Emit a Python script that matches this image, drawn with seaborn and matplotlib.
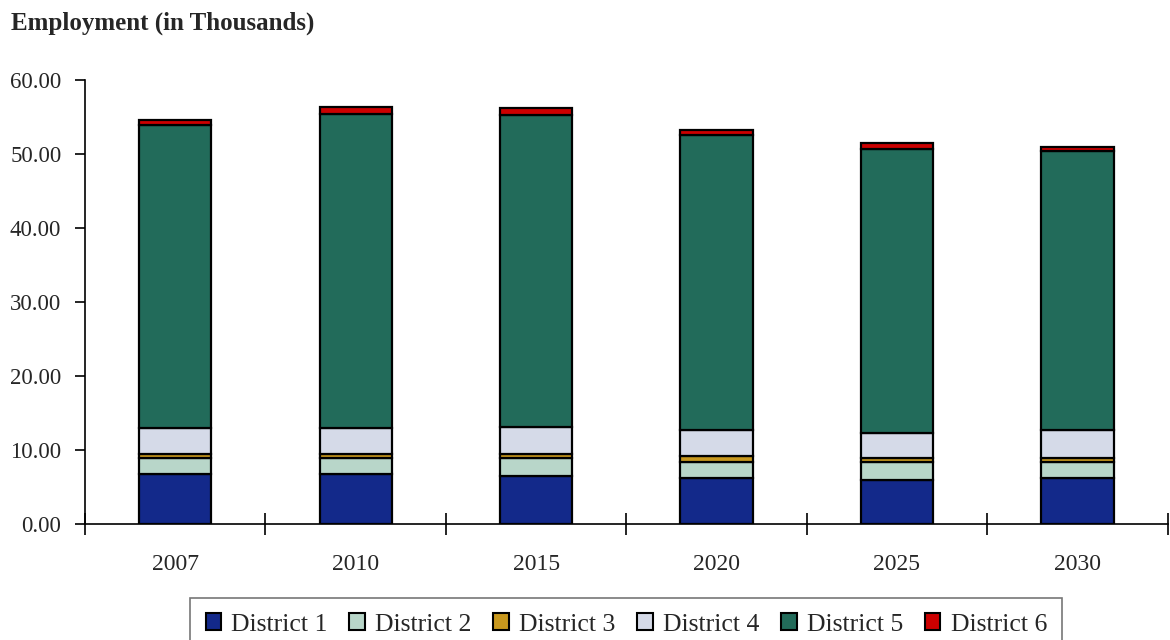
import numpy as np
import pandas as pd
import matplotlib
matplotlib.use("Agg")
import matplotlib.pyplot as plt
from matplotlib.patches import Patch
from matplotlib.ticker import FixedLocator, FormatStrFormatter
import seaborn as sns

years = ["2007", "2010", "2015", "2020", "2025", "2030"]
districts = ["District 1", "District 2", "District 3", "District 4", "District 5", "District 6"]
district_1 = [6.7, 6.7, 6.4, 6.1, 5.9, 6.1]
district_2 = [2.2, 2.2, 2.4, 2.2, 2.4, 2.2]
district_3 = [0.5, 0.5, 0.6, 0.8, 0.5, 0.5]
district_4 = [3.5, 3.5, 3.7, 3.5, 3.5, 3.8]
district_5 = [41.0, 42.5, 42.1, 39.9, 38.4, 37.8]
district_6 = [0.7, 0.9, 1.0, 0.7, 0.8, 0.6]
colors = ["#13298A", "#B8D6C9", "#C8981E", "#D5DAE8", "#226B5A", "#CC0000"]

series = [district_1, district_2, district_3, district_4, district_5, district_6]

sns.set_theme(style="white")
plt.rcParams["font.family"] = ["Liberation Serif", "DejaVu Serif"]

fig = plt.figure(figsize=(11.7, 6.4), dpi=100)
ax = fig.add_axes([0.0726, 0.182, 0.9254, 0.693])

bottom = np.zeros(len(years))
for name, vals, col in zip(districts, series, colors):
    df = pd.DataFrame({"year": years, "value": vals})
    sns.barplot(data=df, x="year", y="value", order=years, color=col,
                width=0.4, bottom=bottom.copy(), errorbar=None,
                edgecolor="black", linewidth=1.6, saturation=1, ax=ax)
    bottom += np.array(vals)

ax.set_xlim(-0.5, len(years) - 0.5)
ax.set_ylim(0, 60)
ax.set_xlabel("")
ax.set_ylabel("")

ax.yaxis.set_major_locator(FixedLocator(np.arange(0, 61, 10)))
ax.yaxis.set_major_formatter(FormatStrFormatter("%.2f"))
ax.tick_params(axis="y", direction="out", length=7, width=1.2, color="black",
               labelsize=16.5, left=True, pad=10)
ax.tick_params(axis="x", which="major", length=0, labelsize=17, pad=22)
ax.set_xticks(np.arange(-0.5, len(years), 1.0), minor=True)
ax.tick_params(axis="x", which="minor", direction="inout", length=16,
               width=1.2, color="black", bottom=True)

for side in ["top", "right"]:
    ax.spines[side].set_visible(False)
for side in ["left", "bottom"]:
    ax.spines[side].set_color("black")
    ax.spines[side].set_linewidth(1.2)

fig.text(0.009, 0.963, "Employment (in Thousands)", fontsize=18,
         fontweight="bold", ha="left", va="center")

handles = [Patch(facecolor=c, edgecolor="black", linewidth=1.5, label=n)
           for n, c in zip(districts, colors)]
leg = ax.legend(handles=handles, loc="upper center",
                bbox_to_anchor=(0.5, -0.168), ncol=6, fontsize=18.5,
                frameon=True, fancybox=False, handlelength=0.6,
                handleheight=0.6, handletextpad=0.4, columnspacing=0.85,
                borderpad=0.6, borderaxespad=0)
leg.get_frame().set_edgecolor("#555555")
leg.get_frame().set_linewidth(1.2)

fig.savefig("out.png", dpi=100)
